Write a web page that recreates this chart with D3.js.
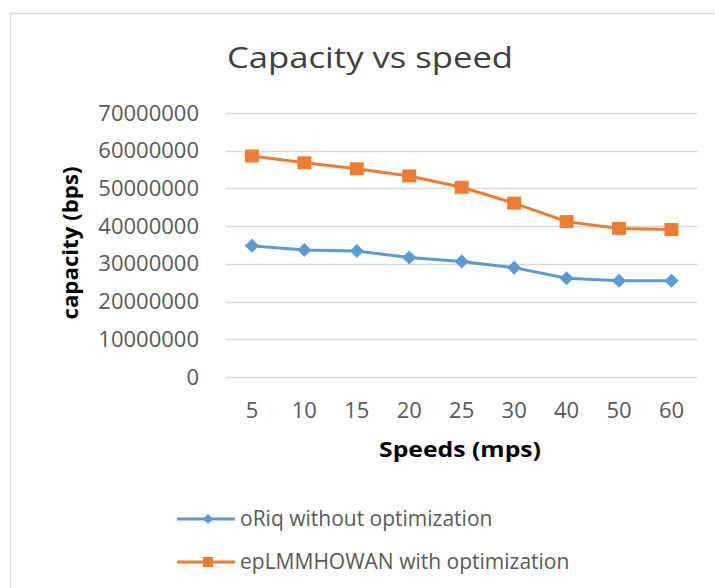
<!DOCTYPE html>
<html><head><meta charset="utf-8">
<script src="https://cdn.jsdelivr.net/npm/d3@7"></script>
<style>body{margin:0;background:#fff}svg{display:block}text{font-family:"Open Sans",sans-serif}</style>
</head><body><svg id="c" width="715" height="588"></svg>
<script>
const speeds = ["5","10","15","20","25","30","40","50","60"];
const withoutOpt = [34800000,33700000,33400000,31700000,30600000,29000000,26200000,25500000,25500000];
const withOpt = [58600000,56800000,55200000,53300000,50300000,46100000,41200000,39400000,39100000];
const yTicks = [0,10000000,20000000,30000000,40000000,50000000,60000000,70000000];
const seriesNames = ["oRiq without optimization","epLMMHOWAN with optimization"];
const colors = ["#5b9bd5","#ed7d31"];

const svg = d3.select("#c");
svg.append("rect").attr("x",10.5).attr("y",13.5).attr("width",720).attr("height",600)
  .attr("fill","#fff").attr("stroke","#d9d9d9").attr("stroke-width",1.5);

const x = d3.scaleBand().domain(speeds).range([225.7,697.7]);
const y = d3.scaleLinear().domain([0,70000000]).range([377,113]);

svg.append("text").attr("x",370).attr("y",67.5).attr("text-anchor","middle")
  .attr("font-size",29).attr("fill","#404040")
  .attr("textLength",286).attr("lengthAdjust","spacingAndGlyphs").text("Capacity vs speed");

const grid = svg.append("g");
grid.selectAll("line").data(yTicks).join("line")
  .attr("x1",x.range()[0]).attr("x2",x.range()[1])
  .attr("y1",d=>Math.round(y(d))+0.5).attr("y2",d=>Math.round(y(d))+0.5)
  .attr("stroke","#d9d9d9").attr("stroke-width",1.3);

const yAxis = svg.append("g").attr("transform","translate(199,0)")
  .call(d3.axisLeft(y).tickValues(yTicks).tickSize(0).tickPadding(0).tickFormat(d3.format("d")));
yAxis.select(".domain").remove();
yAxis.selectAll("text").attr("font-size",22).attr("fill","#595959").attr("font-family","'Open Sans',sans-serif");

const xAxis = svg.append("g").attr("transform","translate(0,377)")
  .call(d3.axisBottom(x).tickSize(0));
xAxis.select(".domain").remove();
xAxis.selectAll("text").attr("y",40.5).attr("dy",null).attr("font-size",22).attr("fill","#595959").attr("font-family","'Open Sans',sans-serif");

svg.append("text").attr("x",460).attr("y",457).attr("text-anchor","middle")
  .attr("font-size",22).attr("font-weight","bold").attr("fill","#000")
  .attr("textLength",162).attr("lengthAdjust","spacingAndGlyphs").text("Speeds (mps)");
svg.append("text").attr("transform","translate(78,243) rotate(-90)").attr("text-anchor","middle")
  .attr("font-size",21).attr("font-weight","bold").attr("fill","#000")
  .attr("textLength",153).attr("lengthAdjust","spacingAndGlyphs").text("capacity (bps)");

const line = d3.line().x((d,i)=>x(speeds[i])+x.bandwidth()/2).y(d=>y(d));
const data = [withoutOpt, withOpt];
data.forEach((vals,si)=>{
  const g = svg.append("g");
  g.append("path").datum(vals).attr("d",line).attr("fill","none")
    .attr("stroke",colors[si]).attr("stroke-width",3).attr("stroke-linejoin","round");
  if(si===0){
    g.selectAll("path.m").data(vals).join("path").attr("class","m")
      .attr("transform",(d,i)=>`translate(${x(speeds[i])+x.bandwidth()/2},${y(d)})`)
      .attr("d","M0,-7L7,0L0,7L-7,0Z").attr("fill",colors[si]);
  } else {
    g.selectAll("rect.m").data(vals).join("rect").attr("class","m")
      .attr("x",(d,i)=>x(speeds[i])+x.bandwidth()/2-7).attr("y",d=>y(d)-6.5)
      .attr("width",14).attr("height",13).attr("fill",colors[si]);
  }
});

const leg = svg.append("g");
seriesNames.forEach((n,i)=>{
  const ly = 519 + i*43;
  leg.append("line").attr("x1",177).attr("x2",235).attr("y1",ly).attr("y2",ly)
    .attr("stroke",colors[i]).attr("stroke-width",3);
  if(i===0) leg.append("path").attr("transform",`translate(208,${ly})`).attr("d","M0,-5L5,0L0,5L-5,0Z").attr("fill",colors[i]);
  else leg.append("rect").attr("x",203).attr("y",ly-5).attr("width",10).attr("height",10).attr("fill",colors[i]);
  leg.append("text").attr("x",240).attr("y",ly+7).attr("font-size",21)
    .attr("fill","#595959").text(n);
});
</script></body></html>
